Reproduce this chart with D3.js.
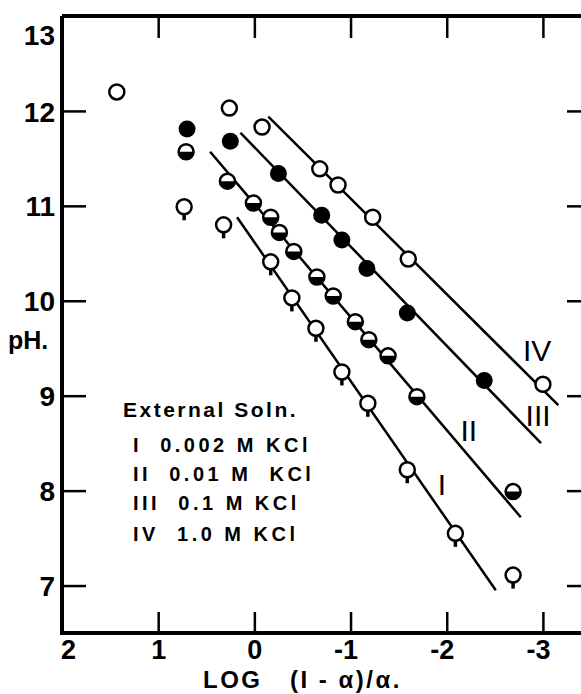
<!DOCTYPE html>
<html>
<head>
<meta charset="utf-8">
<script src="https://cdn.jsdelivr.net/npm/d3@7"></script>
<style>
  body { margin: 0; background: #fff; }
  svg { display: block; }
  text { font-family: "Liberation Sans", Arial, sans-serif; font-weight: bold; fill: #000; }
</style>
</head>
<body>
<div id="chart"></div>
<script>
(function() {

  // values: [log (1-a)/a, pH]
  var seriesI = [[0.73, 10.99], [0.32, 10.80], [-0.17, 10.41], [-0.39, 10.03], [-0.64, 9.71],
                 [-0.91, 9.25], [-1.18, 8.92], [-1.59, 8.22], [-2.09, 7.55], [-2.69, 7.11]];
  var seriesII = [[0.71, 11.57], [0.28, 11.26], [0.01, 11.03], [-0.17, 10.88], [-0.26, 10.72],
                  [-0.41, 10.52], [-0.65, 10.25], [-0.82, 10.05], [-1.05, 9.78], [-1.19, 9.59],
                  [-1.39, 9.42], [-1.69, 8.99], [-2.69, 7.99]];
  var seriesIII = [[0.70, 11.81], [0.25, 11.68], [-0.25, 11.34], [-0.70, 10.90], [-0.91, 10.64],
                   [-1.17, 10.34], [-1.59, 9.87], [-2.39, 9.16]];
  var seriesIV = [[1.43, 12.20], [0.26, 12.03], [-0.08, 11.83], [-0.68, 11.39], [-0.87, 11.22],
                  [-1.23, 10.88], [-1.60, 10.44], [-3.00, 9.12]];

  // fitted straight lines, end points
  var fitI = [[0.18, 10.88], [-2.51, 6.95]];
  var fitII = [[0.46, 11.57], [-2.77, 7.72]];
  var fitIII = [[0.145, 11.77], [-2.98, 8.50]];
  var fitIV = [[-0.145, 11.94], [-3.16, 8.90]];

  var lineNames = ['I', 'II', 'III', 'IV'];
  var lineLabelAt = [[-1.95, 7.95], [-2.23, 8.52], [-2.95, 8.68], [-2.94, 9.37]];

  var legendTitle = 'External Soln.';
  var legendRows = ['I  0.002 M KCl', 'II  0.01 M  KCl', 'III  0.1 M KCl', 'IV  1.0 M KCl'];

  var xTicks = [2, 1, 0, -1, -2, -3];
  var yTicks = [7, 8, 9, 10, 11, 12, 13];

  var width = 581, height = 694;
  var r = 7.5;

  var xScale = d3.scaleLinear().domain([2, -3.5]).range([62, 591]);
  var yScale = d3.scaleLinear().domain([6.5, 13]).range([633, 16]);

  var svg = d3.select('#chart')
    .append('svg')
    .attr('width', width)
    .attr('height', height);

  // axes
  var xAxis = d3.axisBottom(xScale).tickValues(xTicks).tickSize(-21).tickPadding(7)
    .tickFormat(function(d) { return String(d); });
  var gx = svg.append('g')
    .attr('transform', 'translate(0,' + yScale(6.5) + ')')
    .call(xAxis);
  gx.selectAll('.tick text')
    .style('font-size', '27px')
    .attr('dx', function(d) { return d < 0 ? -5 : (d === 2 ? 6 : 0); });

  svg.append('g')
    .attr('transform', 'translate(0,' + yScale(13) + ')')
    .call(d3.axisTop(xScale).tickValues(xTicks.slice(1)).tickSize(-22).tickFormat(''));

  var gy = svg.append('g')
    .attr('transform', 'translate(' + xScale(2) + ',0)')
    .call(d3.axisLeft(yScale).tickValues(yTicks).tickSize(-24).tickPadding(7)
      .tickFormat(function(d) { return String(d); }));
  gy.selectAll('.tick text')
    .style('font-size', '28px')
    .attr('dy', function(d) { return d === 13 ? '1.0em' : '0.36em'; });

  svg.append('g')
    .attr('transform', 'translate(' + xScale(-3.5) + ',0)')
    .call(d3.axisRight(yScale).tickValues(yTicks.slice(0, -1)).tickSize(-24).tickFormat(''));

  svg.selectAll('.domain').remove();
  svg.selectAll('.tick line').attr('stroke', '#000').attr('stroke-width', 2.5);

  // frame
  var frame = [[2, 13], [-3.5, 13], [-3.5, 6.5], [2, 6.5], [2, 13]];
  svg.append('path')
    .attr('d', d3.line().x(function(d) { return xScale(d[0]); }).y(function(d) { return yScale(d[1]); })(frame))
    .attr('fill', 'none')
    .attr('stroke', '#000')
    .attr('stroke-width', 4)
    .attr('stroke-linejoin', 'miter');

  // fitted lines
  var line = d3.line()
    .x(function(d) { return xScale(d[0]); })
    .y(function(d) { return yScale(d[1]); });

  svg.selectAll('.fit')
    .data([fitI, fitII, fitIII, fitIV])
    .enter()
    .append('path')
    .attr('class', 'fit')
    .attr('d', line)
    .attr('fill', 'none')
    .attr('stroke', '#000')
    .attr('stroke-width', 2.5);

  // series I: open circles with a tail
  var gI = svg.selectAll('.ptI').data(seriesI).enter().append('g')
    .attr('transform', function(d) { return 'translate(' + xScale(d[0]) + ',' + yScale(d[1]) + ')'; });
  gI.append('line')
    .attr('x1', 0).attr('x2', 0).attr('y1', r).attr('y2', r + 6)
    .attr('stroke', '#000').attr('stroke-width', 3.5);
  gI.append('circle')
    .attr('r', r).attr('fill', '#fff').attr('stroke', '#000').attr('stroke-width', 2.5);

  // series II: bottom half filled
  var halfArc = d3.arc().innerRadius(0).outerRadius(r).startAngle(Math.PI / 2).endAngle(3 * Math.PI / 2);
  var gII = svg.selectAll('.ptII').data(seriesII).enter().append('g')
    .attr('transform', function(d) { return 'translate(' + xScale(d[0]) + ',' + yScale(d[1]) + ')'; });
  gII.append('circle')
    .attr('r', r).attr('fill', '#fff');
  gII.append('path')
    .attr('d', halfArc()).attr('fill', '#000');
  gII.append('circle')
    .attr('r', r).attr('fill', 'none').attr('stroke', '#000').attr('stroke-width', 2.5);

  // series III: filled
  svg.selectAll('.ptIII').data(seriesIII).enter().append('circle')
    .attr('cx', function(d) { return xScale(d[0]); })
    .attr('cy', function(d) { return yScale(d[1]); })
    .attr('r', r + 1)
    .attr('fill', '#000');

  // series IV: open
  svg.selectAll('.ptIV').data(seriesIV).enter().append('circle')
    .attr('cx', function(d) { return xScale(d[0]); })
    .attr('cy', function(d) { return yScale(d[1]); })
    .attr('r', r)
    .attr('fill', '#fff')
    .attr('stroke', '#000')
    .attr('stroke-width', 2.5);

  // roman labels next to the lines
  svg.selectAll('.lineLabel')
    .data(lineNames)
    .enter()
    .append('text')
    .attr('x', function(d, i) { return xScale(lineLabelAt[i][0]); })
    .attr('y', function(d, i) { return yScale(lineLabelAt[i][1]); })
    .attr('text-anchor', 'middle')
    .style('font-size', '30px')
    .style('font-weight', 'normal')
    .text(function(d) { return d; });

  // legend
  svg.append('text')
    .attr('x', 123).attr('y', 417)
    .style('font-size', '21px')
    .style('letter-spacing', '2.5px')
    .text(legendTitle);

  svg.selectAll('.legendRow')
    .data(legendRows)
    .enter()
    .append('text')
    .attr('x', 133)
    .attr('y', function(d, i) { return [452, 481, 510, 541][i]; })
    .style('font-size', '20px')
    .style('letter-spacing', '3.5px')
    .style('white-space', 'pre')
    .text(function(d) { return d; });

  // axis titles
  svg.append('text')
    .attr('x', 8).attr('y', 349)
    .style('font-size', '25px')
    .text('pH.');

  svg.append('text')
    .attr('x', 203).attr('y', 688)
    .style('font-size', '24px')
    .style('letter-spacing', '2.5px')
    .style('white-space', 'pre')
    .text('LOG   (I - α)/α.');

})();
</script>
</body>
</html>
